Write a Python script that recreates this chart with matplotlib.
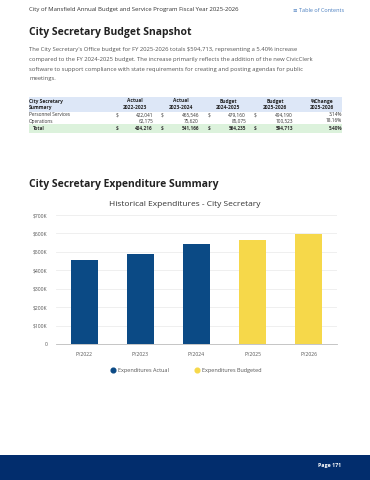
import matplotlib.pyplot as plt
from matplotlib.patches import Rectangle
from matplotlib.lines import Line2D

plt.rcParams['font.family'] = ['Open Sans', 'DejaVu Sans']

# chart data
years = ['FY2022', 'FY2023', 'FY2024', 'FY2025', 'FY2026']
actual = [458000, 486000, 542000, 0, 0]
budgeted = [0, 0, 0, 564235, 594713]
yticks = [0, 100000, 200000, 300000, 400000, 500000, 600000, 700000]
ytick_labels = ['0', '$100K', '$200K', '$300K', '$400K', '$500K', '$600K', '$700K']

# table data
col_heads = [('City Secretary', 'Summary'), ('Actual', '2022-2023'), ('Actual', '2023-2024'),
             ('Budget', '2024-2025'), ('Budget', '2025-2026'), ('%Change', '2025-2026')]
personnel = ['422,041', '465,546', '479,160', '494,190', '3.14%']
operations = ['62,175', '75,620', '85,075', '100,523', '18.16%']
totals = ['484,216', '541,166', '564,235', '594,713', '5.40%']

BLUE = '#0b4a85'
YELLOW = '#f6d84a'
NAVY = '#022d6d'
GRAY = '#555555'

W, H = 370, 480
fig = plt.figure(figsize=(3.7, 4.8), dpi=100)


def px(x, y):
    return x / W, 1 - y / H


def txt(x, y, s, **kw):
    fx, fy = px(x, y)
    fig.text(fx, fy, s, **kw)


# page header
txt(29, 10, 'City of Mansfield Annual Budget and Service Program Fiscal Year 2025-2026',
    fontsize=4.3, color='#333333', va='center')
txt(293, 11, '\u2261 Table of Contents', fontsize=4.0, color='#4a7fc0', va='center')

txt(29, 32, 'City Secretary Budget Snapshot', fontsize=7.5, weight='bold', color='#222222', va='center')

para = ["The City Secretary's Office budget for FY 2025-2026 totals $594,713, representing a 5.40% increase",
        "compared to the FY 2024-2025 budget. The increase primarily reflects the addition of the new CivicClerk",
        "software to support compliance with state requirements for creating and posting agendas for public",
        "meetings."]
for i, line in enumerate(para):
    txt(29, 50 + i * 9.5, line, fontsize=4.2, color='#555555', va='center')

# table backgrounds
for (y0, y1, c) in [(97, 112, '#dde7f7'), (124, 133, '#dcf2dc')]:
    fx, fy = px(29, y1)
    fig.patches.append(Rectangle((fx, fy), 313 / W, (y1 - y0) / H, transform=fig.transFigure,
                                 facecolor=c, edgecolor='none'))

head_x = [29, 135, 181, 228, 275, 322]
for i, (a, b) in enumerate(col_heads):
    ha = 'left' if i == 0 else 'center'
    txt(head_x[i], 101, a, fontsize=3.5, weight='bold', color='#222222', va='center', ha=ha)
    txt(head_x[i], 107.5, b, fontsize=3.5, weight='bold', color='#222222', va='center', ha=ha)

dollar_x = [116, 161, 208, 254]
val_x = [153, 199, 246, 293, 342]
rows = [('Personnel Services', personnel, 115, True, 'normal', 29),
        ('Operations', operations, 121, False, 'normal', 29),
        ('Total', totals, 128.5, True, 'bold', 33)]
for name, vals, y, dollars, wt, nx in rows:
    txt(nx, y, name, fontsize=3.4, color='#333333', va='center', weight=wt)
    if dollars:
        for dx in dollar_x:
            txt(dx, y, '$', fontsize=3.4, color='#333333', va='center', weight=wt)
    for vx, v in zip(val_x, vals):
        txt(vx, y, v, fontsize=3.4, color='#333333', va='center', ha='right', weight=wt)

txt(29, 184, 'City Secretary Expenditure Summary', fontsize=7.5, weight='bold', color='#222222', va='center')
txt(185, 204, 'Historical Expenditures - City Secretary', fontsize=6.0, color='#333333',
    va='center', ha='center')

# chart
l, b = px(56, 344)
_, t = px(0, 215)
ax = fig.add_axes([l, b, 281 / W, t - b])
ax.bar(years, actual, width=0.48, color=BLUE, zorder=3)
ax.bar(years, budgeted, width=0.48, color=YELLOW, zorder=3)
ax.set_ylim(0, 700000)
ax.set_xlim(-0.5, 4.5)
ax.set_yticks(yticks)
ax.set_yticklabels(ytick_labels)
ax.grid(axis='y', color='#ececec', linewidth=0.6, zorder=0)
for s in ['top', 'right', 'left']:
    ax.spines[s].set_visible(False)
ax.spines['bottom'].set_color('#bbbbbb')
ax.spines['bottom'].set_linewidth(0.6)
ax.tick_params(axis='both', length=0, labelsize=3.6, labelcolor=GRAY)
ax.tick_params(axis='y', pad=6)
ax.tick_params(axis='x', pad=6)
handles = [Line2D([], [], marker='o', linestyle='none', markersize=3.4, color=BLUE),
           Line2D([], [], marker='o', linestyle='none', markersize=3.4, color=YELLOW)]
ax.legend(handles, ['Expenditures Actual', 'Expenditures Budgeted'],
          loc='upper center', bbox_to_anchor=(0.463, -0.15), ncol=2, frameon=False,
          fontsize=4.0, handlelength=0.8, columnspacing=4.5,
          labelcolor=GRAY, handletextpad=0.5)

# footer band
fig.patches.append(Rectangle((0, 0), 1, 25 / H, transform=fig.transFigure,
                             facecolor=NAVY, edgecolor='none'))
txt(341, 465, 'Page 171', fontsize=3.8, weight='bold', color='white', va='center', ha='right')

fig.savefig('out.png', dpi=100)
